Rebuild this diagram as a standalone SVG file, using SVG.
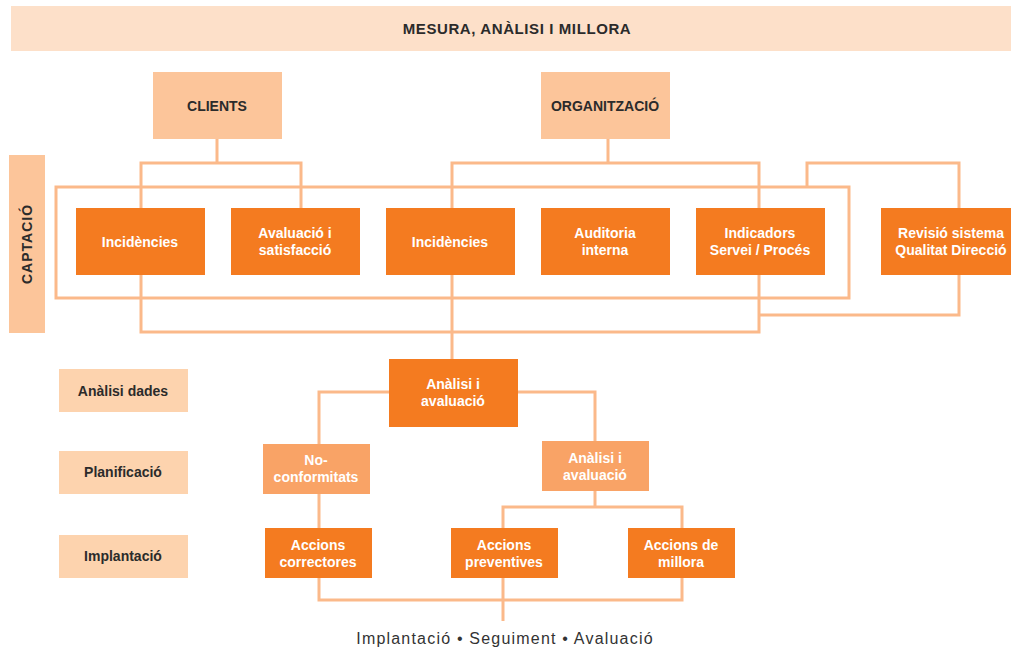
<svg xmlns="http://www.w3.org/2000/svg" width="1011" height="649" viewBox="0 0 1011 649">
<style>
.c{fill:none;stroke:#fbb98a;stroke-width:3}
.d{fill:#f47b20}
.m{fill:#f9a366}
.l{fill:#fcc59a}
.p{fill:#fdd3ae}
.wt{font-family:"Liberation Sans",Arial,sans-serif;font-weight:bold;font-size:14px;fill:#fff;text-anchor:middle}
.bt{font-family:"Liberation Sans",Arial,sans-serif;font-weight:bold;font-size:14px;fill:#2b2b2b;text-anchor:middle}
</style>
<rect width="1011" height="649" fill="#fff"/>
<g id="banner"><rect x="11" y="6" width="1000" height="45" fill="#fde0c9"/><text class="bt" x="517" y="34" style="font-size:15px" letter-spacing="0.6">MESURA, ANÀLISI I MILLORA</text></g>
<g id="connectors">
<rect class="c" x="56" y="187" width="793" height="111"/>
<path class="c" d="M217 139V163M141 208V163H301V208"/>
<path class="c" d="M608 139V163M452 208V163H759V208"/>
<path class="c" d="M807 187V163H959V208"/>
<path class="c" d="M141 275V332H759V275M452 275V359"/>
<path class="c" d="M959 275V315H759"/>
<path class="c" d="M389 392H319V444M518 392H595V441"/>
<path class="c" d="M319 494V528M595 491V507M503 528V507H682V528"/>
<path class="c" d="M319 578V600H682V578M503 578V621"/>
</g>
<g id="clients"><rect class="l" x="153" y="72" width="129" height="67"/><text class="bt" x="217" y="111">CLIENTS</text></g>
<g id="organitzacio"><rect class="l" x="541" y="72" width="129" height="67"/><text class="bt" x="605" y="111">ORGANITZACIÓ</text></g>
<g id="captacio"><rect class="l" x="9" y="155" width="36" height="178"/><text class="bt" transform="translate(32 244) rotate(-90)" letter-spacing="1">CAPTACIÓ</text></g>
<g id="incidencies1"><rect class="d" x="76" y="208" width="129" height="67"/><text class="wt" x="140" y="247">Incidències</text></g>
<g id="avaluacio"><rect class="d" x="231" y="208" width="129" height="67"/><text class="wt" x="295" y="238">Avaluació i</text><text class="wt" x="295" y="255">satisfacció</text></g>
<g id="incidencies2"><rect class="d" x="386" y="208" width="129" height="67"/><text class="wt" x="450" y="247">Incidències</text></g>
<g id="auditoria"><rect class="d" x="541" y="208" width="129" height="67"/><text class="wt" x="605" y="238">Auditoria</text><text class="wt" x="605" y="255">interna</text></g>
<g id="indicadors"><rect class="d" x="696" y="208" width="129" height="67"/><text class="wt" x="760" y="238">Indicadors</text><text class="wt" x="760" y="255">Servei / Procés</text></g>
<g id="revisio"><rect class="d" x="881" y="208" width="135" height="67"/><text class="wt" x="951" y="238">Revisió sistema</text><text class="wt" x="951" y="255">Qualitat Direcció</text></g>
<g id="analisi1"><rect class="d" x="389" y="359" width="129" height="68"/><text class="wt" x="453" y="389">Anàlisi i</text><text class="wt" x="453" y="406">avaluació</text></g>
<g id="noconformitats"><rect class="m" x="263" y="444" width="107" height="50"/><text class="wt" x="316" y="465">No-</text><text class="wt" x="316" y="482">conformitats</text></g>
<g id="analisi2"><rect class="m" x="542" y="441" width="107" height="50"/><text class="wt" x="595" y="463">Anàlisi i</text><text class="wt" x="595" y="480">avaluació</text></g>
<g id="correctores"><rect class="d" x="265" y="528" width="107" height="50"/><text class="wt" x="318" y="550">Accions</text><text class="wt" x="318" y="567">correctores</text></g>
<g id="preventives"><rect class="d" x="451" y="528" width="107" height="50"/><text class="wt" x="504" y="550">Accions</text><text class="wt" x="504" y="567">preventives</text></g>
<g id="millora"><rect class="d" x="628" y="528" width="107" height="50"/><text class="wt" x="681" y="550">Accions de</text><text class="wt" x="681" y="567">millora</text></g>
<g id="l_analisi"><rect class="p" x="59" y="369" width="129" height="43"/><text class="bt" x="123" y="396">Anàlisi dades</text></g>
<g id="l_planificacio"><rect class="p" x="59" y="451" width="129" height="43"/><text class="bt" x="123" y="477">Planificació</text></g>
<g id="l_implantacio"><rect class="p" x="59" y="535" width="129" height="43"/><text class="bt" x="123" y="561">Implantació</text></g>
<text x="505" y="644" font-family="Liberation Sans,Arial,sans-serif" font-size="16" fill="#333" text-anchor="middle" letter-spacing="1.2">Implantació • Seguiment • Avaluació</text>
</svg>
